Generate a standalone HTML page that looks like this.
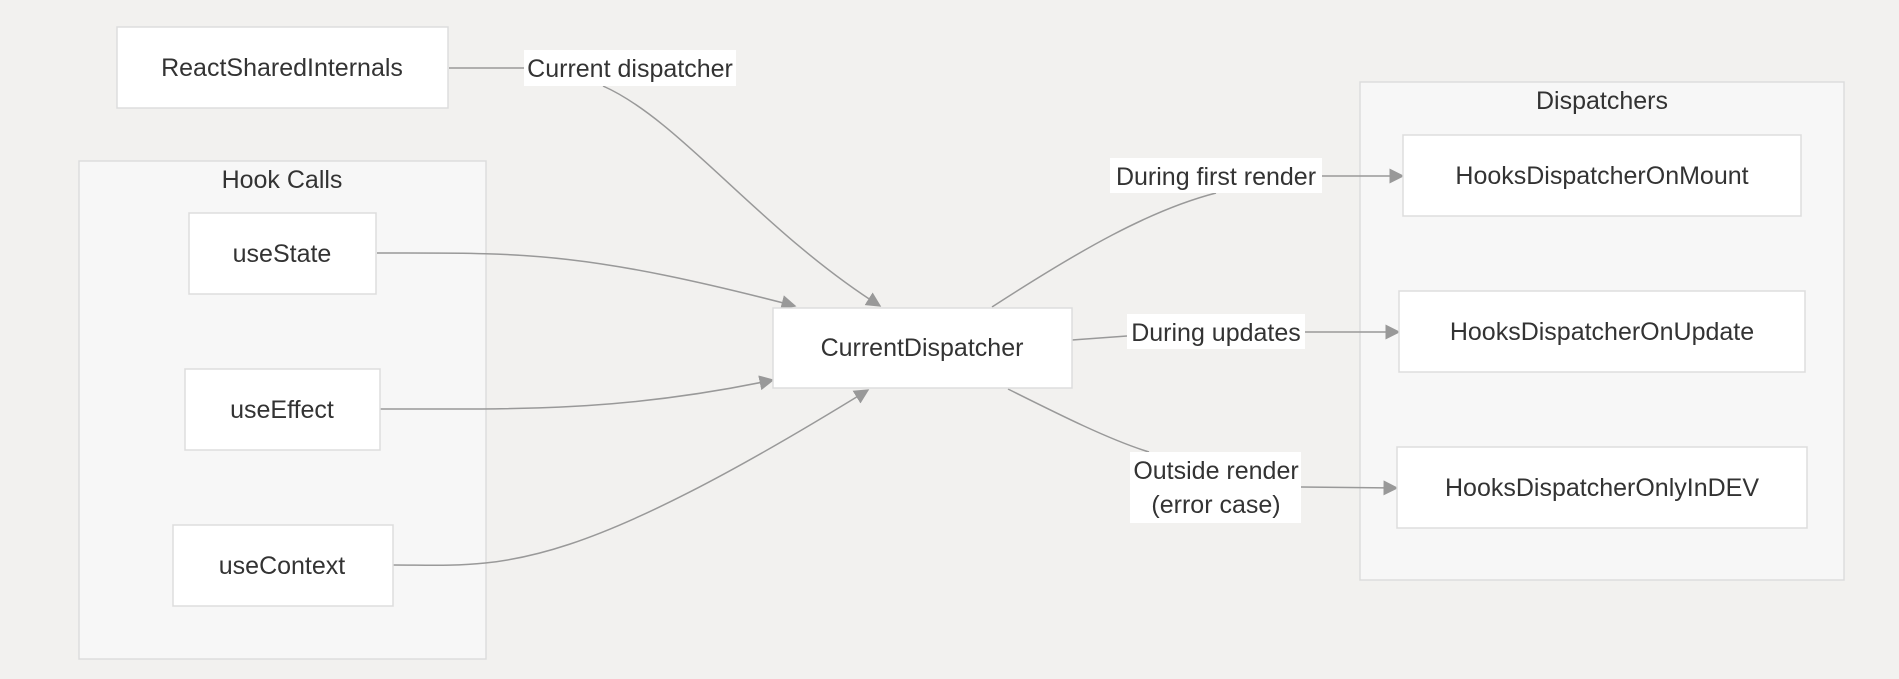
<!DOCTYPE html>
<html><head><meta charset="utf-8"><style>
html,body{margin:0;padding:0;background:#f2f1ef;}
svg{display:block;font-family:"Liberation Sans",sans-serif;}
text{fill:#333;font-size:25px;text-anchor:middle;}
.n{fill:#fff;stroke:#ddd;stroke-width:1.5;}
.c{fill:#f7f7f7;stroke:#ddd;stroke-width:1.5;}
.e{fill:none;stroke:#999;stroke-width:1.5;}
.l{fill:#fff;}
</style></head><body>
<svg width="1899" height="679" viewBox="0 0 1899 679">
<defs><marker id="a" viewBox="0 0 10 10" refX="9" refY="5" markerWidth="10" markerHeight="10" orient="auto"><path d="M0,0L10,5L0,10z" fill="#999"/></marker></defs>
<rect class="c" x="79" y="161" width="407" height="498"/>
<text x="282" y="188">Hook Calls</text>
<rect class="c" x="1360" y="82" width="484" height="498"/>
<text x="1602" y="109">Dispatchers</text>

<path class="e" d="M449,68 L524,68"/>
<path class="e" d="M603,86 C680,120 760,230 880,306" marker-end="url(#a)"/>
<path class="e" d="M377,253 C520,253 580,250 795,306" marker-end="url(#a)"/>
<path class="e" d="M380,409 C520,409 620,412 773,380" marker-end="url(#a)"/>
<path class="e" d="M393,565 C500,565 560,580 868,390" marker-end="url(#a)"/>
<path class="e" d="M992,307 C1080,250 1150,210 1216,193"/>
<path class="e" d="M1322,176 L1403,176" marker-end="url(#a)"/>
<path class="e" d="M1072,340 L1127,336"/>
<path class="e" d="M1305,332 L1399,332" marker-end="url(#a)"/>
<path class="e" d="M1008,389 C1060,415 1110,440 1149,452"/>
<path class="e" d="M1301,487 L1397,488" marker-end="url(#a)"/>

<rect class="n" x="117" y="27" width="331" height="81"/>
<text x="282" y="76">ReactSharedInternals</text>
<rect class="n" x="189" y="213" width="187" height="81"/>
<text x="282" y="262">useState</text>
<rect class="n" x="185" y="369" width="195" height="81"/>
<text x="282" y="418">useEffect</text>
<rect class="n" x="173" y="525" width="220" height="81"/>
<text x="282" y="574">useContext</text>
<rect class="n" x="773" y="308" width="299" height="80"/>
<text x="922" y="356">CurrentDispatcher</text>
<rect class="n" x="1403" y="135" width="398" height="81"/>
<text x="1602" y="184">HooksDispatcherOnMount</text>
<rect class="n" x="1399" y="291" width="406" height="81"/>
<text x="1602" y="340">HooksDispatcherOnUpdate</text>
<rect class="n" x="1397" y="447" width="410" height="81"/>
<text x="1602" y="496">HooksDispatcherOnlyInDEV</text>

<rect class="l" x="524" y="50" width="212" height="36"/>
<text x="630" y="77">Current dispatcher</text>
<rect class="l" x="1110" y="158" width="212" height="35"/>
<text x="1216" y="185">During first render</text>
<rect class="l" x="1127" y="314" width="178" height="35"/>
<text x="1216" y="341">During updates</text>
<rect class="l" x="1130" y="452" width="171" height="71"/>
<text x="1216" y="479">Outside render</text>
<text x="1216" y="513">(error case)</text>
</svg>
</body></html>
